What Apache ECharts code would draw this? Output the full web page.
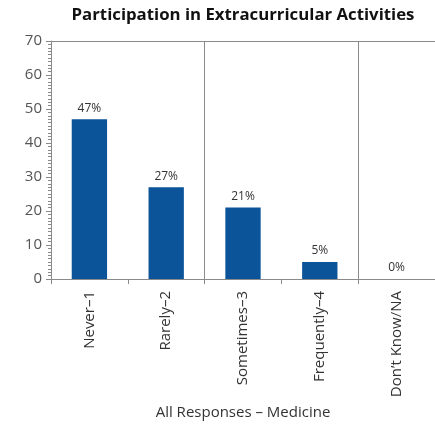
<!DOCTYPE html>
<html>
<head>
<meta charset="utf-8">
<script src="https://cdn.jsdelivr.net/npm/echarts@6/dist/echarts.min.js"></script>
<style>
  html, body { margin: 0; padding: 0; background: #fff; }
  #chart { width: 435px; height: 427px; }
</style>
</head>
<body>
<div id="chart"></div>
<script>
// Survey responses: share of respondents (%) per answer
const categories = ['Never\u20131', 'Rarely\u20132', 'Sometimes\u20133', 'Frequently\u20134', 'Don\u2019t Know/NA'];
const values = [47, 27, 21, 5, 0];
const yTicks = [0, 10, 20, 30, 40, 50, 60, 70];

const FONT = '"Open Sans", "Noto Sans", sans-serif';
const LINE = '#8a8a8a';

const chart = echarts.init(document.getElementById('chart'), null, { renderer: 'canvas' });
chart.setOption({
  animation: false,
  backgroundColor: '#ffffff',
  title: {
    text: 'Participation in Extracurricular Activities',
    left: 238,
    textAlign: 'center',
    top: 2,
    textStyle: { fontFamily: FONT, fontSize: 16.8, fontWeight: 'bold', color: '#111' }
  },
  grid: { left: 51, right: 0, top: 41, bottom: 148, containLabel: false },
  xAxis: [
    {
      type: 'category',
      data: categories,
      boundaryGap: true,
      name: 'All Responses \u2013 Medicine',
      nameLocation: 'middle',
      nameGap: 125,
      nameTextStyle: { fontFamily: FONT, fontSize: 15, color: '#333' },
      axisLine: { show: true, lineStyle: { color: LINE, width: 1 } },
      axisTick: { show: true, length: 5, interval: 0, lineStyle: { color: LINE } },
      axisLabel: {
        rotate: 90, interval: 0, margin: 12,
        fontFamily: FONT, fontSize: 15, color: '#333'
      },
      splitLine: {
        show: true,
        interval: function (i) { return i === 2 || i === 4; },
        lineStyle: { color: LINE, width: 1 }
      }
    },
    {
      type: 'category',
      data: categories,
      position: 'top',
      axisLine: { show: true, lineStyle: { color: LINE, width: 1 } },
      axisTick: { show: false },
      axisLabel: { show: false },
      splitLine: { show: false }
    }
  ],
  yAxis: {
    type: 'value',
    min: yTicks[0],
    max: yTicks[yTicks.length - 1],
    interval: 10,
    axisLine: { show: true, lineStyle: { color: LINE, width: 1 } },
    axisTick: { show: true, length: 5, lineStyle: { color: LINE } },
    minorTick: { show: true, splitNumber: 10, length: 3, lineStyle: { color: LINE } },
    axisLabel: { margin: 9, fontFamily: FONT, fontSize: 15, color: '#555' },
    splitLine: { show: false }
  },
  series: [{
    type: 'bar',
    data: values,
    barWidth: '46%',
    itemStyle: { color: '#0b5499' },
    label: {
      show: true,
      position: 'top',
      distance: 5,
      formatter: function (p) { return p.value + '%'; },
      fontFamily: FONT, fontSize: 12, color: '#333'
    }
  }]
});
</script>
</body>
</html>
